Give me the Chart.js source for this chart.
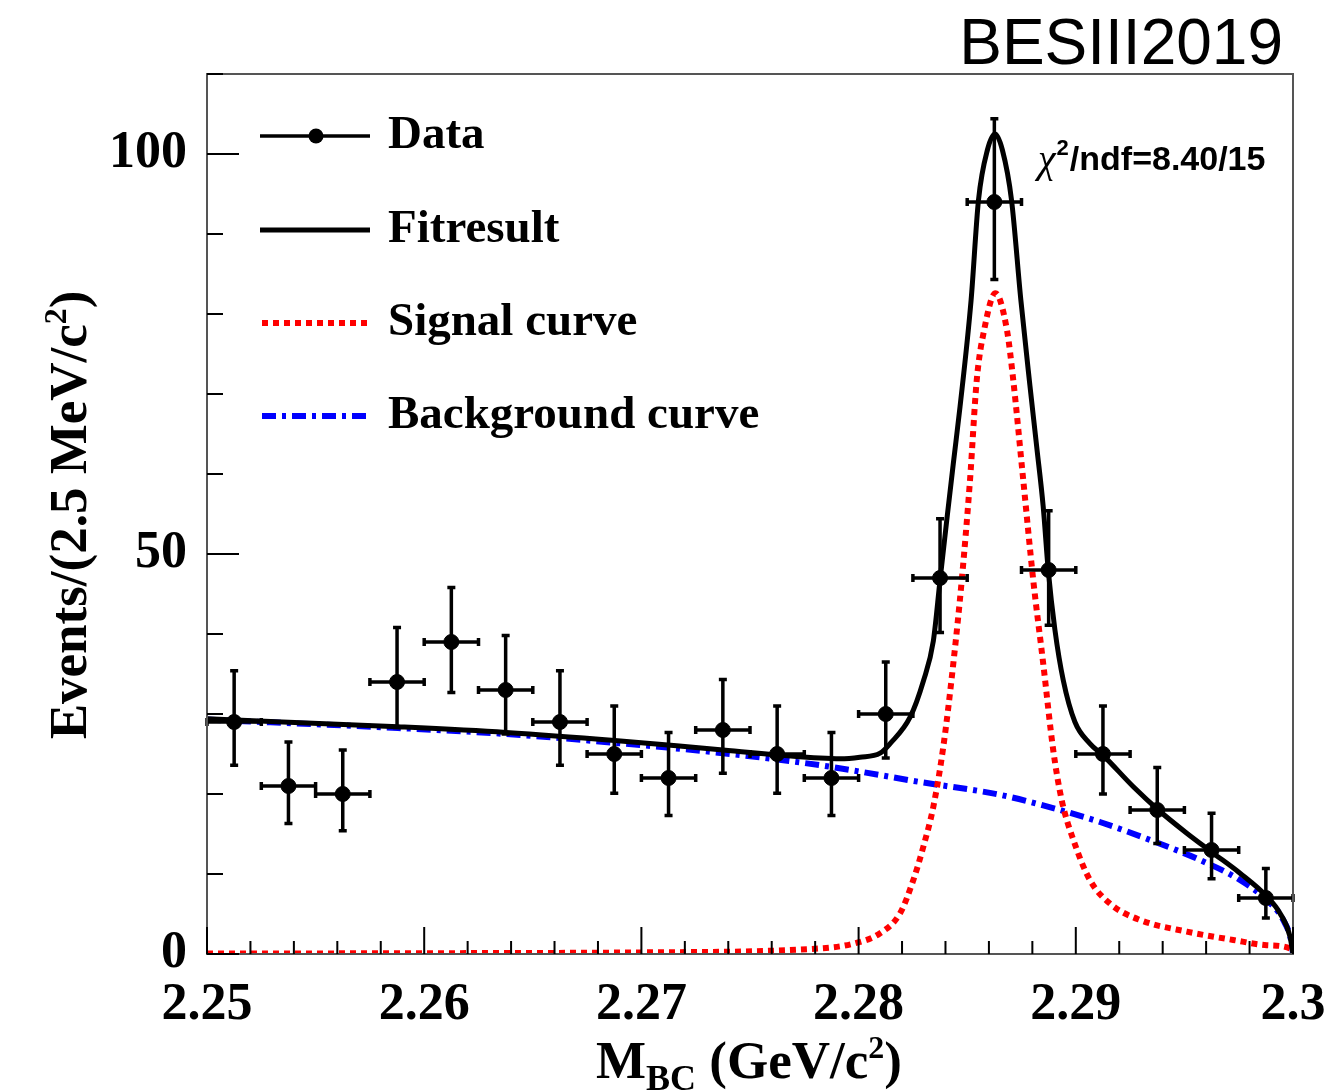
<!DOCTYPE html>
<html>
<head>
<meta charset="utf-8">
<script src="https://cdn.jsdelivr.net/npm/chart.js@4.4.1/dist/chart.umd.min.js"></script>
<style>
  html, body { margin: 0; padding: 0; background: #fff; }
</style>
</head>
<body>
<canvas id="grafica" width="1328" height="1092"></canvas>
<script>
// data histogram: bin centres (GeV/c^2), counts, Poisson errors
var binCentres = [2.25125, 2.25375, 2.25625, 2.25875, 2.26125, 2.26375, 2.26625, 2.26875, 2.27125, 2.27375,
                  2.27625, 2.27875, 2.28125, 2.28375, 2.28625, 2.28875, 2.29125, 2.29375, 2.29625, 2.29875];
var binHalfWidth = 0.00125;
var events  = [29, 21, 20, 34, 39, 33, 29, 25, 22, 28, 25, 22, 30, 47, 94, 48, 25, 18, 13, 7];
var errHigh = [6.4, 5.5, 5.5, 6.8, 6.8, 6.8, 6.4, 6.0, 5.7, 6.3, 6.0, 5.7, 6.5, 7.4, 10.4, 7.4, 6.0, 5.3, 4.6, 3.7];
var errLow  = [5.4, 4.7, 4.6, 5.7, 6.3, 5.5, 5.4, 4.9, 4.7, 5.4, 4.9, 4.7, 5.5, 6.8, 9.7, 6.9, 5.0, 4.2, 3.6, 2.5];

// fit result (black)
var fitX = [2.25, 2.25879, 2.26377, 2.26877, 2.27376, 2.27822, 2.27914, 2.28006, 2.28099, 2.28145, 2.28237,
            2.28298, 2.28344, 2.28375, 2.28406, 2.28436, 2.28467, 2.28518, 2.28552, 2.28593, 2.28628, 2.28662,
            2.28704, 2.28747, 2.28789, 2.2882, 2.2885, 2.28873, 2.28904, 2.28942, 2.28996, 2.29065, 2.29127,
            2.29265, 2.2938, 2.29511, 2.29633, 2.29756, 2.29879, 2.2994, 2.29986, 2.30];
var fitY = [29.4, 28.4, 27.7, 26.7, 25.5, 24.5, 24.4, 24.6, 25.1, 26.3, 29.6,
            34.1, 39.1, 46.75, 54.25, 61.3, 68.4, 81.75, 94.25, 100.5, 102.5, 100.5,
            94.25, 81.75, 71.0, 63.4, 55.9, 48, 40.5, 34.25, 29.0, 26.3, 24.8,
            20.9, 18, 15.1, 12.6, 10.1, 7.2, 5.1, 2.2, 0];

// signal curve (red dotted)
var sigX = [2.25, 2.26, 2.27, 2.27822, 2.27976, 2.28099, 2.28191, 2.28252, 2.28298, 2.28344, 2.2839,
            2.28436, 2.28475, 2.28513, 2.28544, 2.28578, 2.2863, 2.28683, 2.28712, 2.28758, 2.28804, 2.2885,
            2.28896, 2.28935, 2.28989, 2.29065, 2.29157, 2.29296, 2.29511, 2.29725, 2.29879, 2.29986, 2.30];
var sigY = [0.05, 0.1, 0.2, 0.7, 1.3, 2.6, 5.1, 9.25, 13.4, 18.4, 25.9,
            36.3, 46.75, 59.25, 71.75, 78, 82.6, 78, 71.75, 59.25, 46.75, 36.3,
            25.5, 19.25, 14.25, 9.25, 6.3, 4.25, 2.8, 1.75, 1.1, 0.7, 0];

// background curve (blue dash-dot)
var bkgX = [2.25, 2.25879, 2.26377, 2.26877, 2.27376, 2.27822, 2.28006, 2.28283, 2.28651, 2.28927, 2.29111,
            2.29342, 2.29572, 2.29756, 2.29879, 2.29955, 2.29994, 2.30];
var bkgY = [29.3, 28.25, 27.5, 26.4, 25.1, 23.6, 22.8, 21.5, 19.9, 18, 16.5,
            14.25, 11.75, 9.25, 6.75, 4.25, 1.3, 0];

// tick labels
var xTickValues = [2.25, 2.26, 2.27, 2.28, 2.29, 2.30];
var xTickLabels = ['2.25', '2.26', '2.27', '2.28', '2.29', '2.3'];
var yTickValues = [0, 50, 100];
var yTickLabels = ['0', '50', '100'];

function pares(xs, ys) {
  var out = [];
  for (var i = 0; i < xs.length; i++) out.push({ x: xs[i], y: ys[i] });
  return out;
}
function etiqueta(valores, textos, v) {
  for (var i = 0; i < valores.length; i++) {
    if (Math.abs(valores[i] - v) < 1e-6) return textos[i];
  }
  return null;
}

var serif = '"Liberation Serif", "DejaVu Serif", serif';
var sans = '"Liberation Sans", Arial, sans-serif';

// draws a row of text pieces (size, vertical offset) centred on x
function textoCompuesto(ctx, piezas, x, y) {
  var total = 0;
  piezas.forEach(function(p) { ctx.font = 'bold ' + p.size + 'px ' + serif; total += ctx.measureText(p.t).width; });
  var cx = x - total / 2;
  ctx.textAlign = 'left';
  piezas.forEach(function(p) {
    ctx.font = 'bold ' + p.size + 'px ' + serif;
    ctx.fillText(p.t, cx, y + p.dy);
    cx += ctx.measureText(p.t).width;
  });
}

// frame, inward ticks, error bars, legend and labels
var extras = {
  id: 'extras',
  afterDatasetsDraw: function(chart) {
    var ctx = chart.ctx, xs = chart.scales.x, ys = chart.scales.y, a = chart.chartArea;
    ctx.save();
    ctx.strokeStyle = '#000';
    ctx.lineWidth = 3.5;
    for (var i = 0; i < binCentres.length; i++) {
      var px = xs.getPixelForValue(binCentres[i]);
      var py = ys.getPixelForValue(events[i]);
      var xl = xs.getPixelForValue(binCentres[i] - binHalfWidth);
      var xr = Math.min(xs.getPixelForValue(binCentres[i] + binHalfWidth), a.right);
      var yt = ys.getPixelForValue(events[i] + errHigh[i]);
      var yb = ys.getPixelForValue(events[i] - errLow[i]);
      ctx.beginPath();
      ctx.moveTo(xl, py); ctx.lineTo(xr, py);
      ctx.moveTo(px, yt); ctx.lineTo(px, yb);
      ctx.moveTo(xl, py - 4); ctx.lineTo(xl, py + 4);
      ctx.moveTo(xr, py - 4); ctx.lineTo(xr, py + 4);
      ctx.moveTo(px - 4, yt); ctx.lineTo(px + 4, yt);
      ctx.moveTo(px - 4, yb); ctx.lineTo(px + 4, yb);
      ctx.stroke();
    }
    ctx.restore();
  },
  afterDraw: function(chart) {
    var ctx = chart.ctx, xs = chart.scales.x, ys = chart.scales.y, a = chart.chartArea;
    ctx.save();
    // frame
    ctx.strokeStyle = '#555';
    ctx.lineWidth = 2;
    ctx.strokeRect(a.left, a.top, a.right - a.left, a.bottom - a.top);
    // ticks
    ctx.strokeStyle = '#000';
    ctx.lineWidth = 2;
    ctx.beginPath();
    for (var k = 0; k <= 25; k++) {
      var xv = 2.25 + k * 0.002;
      var tx = xs.getPixelForValue(xv);
      var largo = (k % 5 === 0) ? 27 : 13;
      ctx.moveTo(tx, a.bottom); ctx.lineTo(tx, a.bottom - largo);
    }
    for (var j = 0; j <= 11; j++) {
      var ty = ys.getPixelForValue(j * 10);
      var largoY = (j % 5 === 0) ? 32 : 16;
      ctx.moveTo(a.left, ty); ctx.lineTo(a.left + largoY, ty);
    }
    ctx.stroke();

    // legend
    ctx.fillStyle = '#000';
    ctx.textBaseline = 'middle';
    ctx.lineCap = 'butt';
    ctx.strokeStyle = '#000';
    ctx.lineWidth = 3.5;
    ctx.beginPath(); ctx.moveTo(260, 136); ctx.lineTo(370, 136); ctx.stroke();
    ctx.beginPath(); ctx.arc(316, 136, 7.5, 0, 2 * Math.PI); ctx.fill();
    ctx.lineWidth = 5;
    ctx.beginPath(); ctx.moveTo(260, 230); ctx.lineTo(370, 230); ctx.stroke();
    ctx.lineWidth = 6;
    ctx.strokeStyle = '#ff0000';
    ctx.setLineDash([6, 5]);
    ctx.beginPath(); ctx.moveTo(262, 323); ctx.lineTo(370, 323); ctx.stroke();
    ctx.strokeStyle = '#0000ff';
    ctx.setLineDash([14, 6, 4, 6]);
    ctx.beginPath(); ctx.moveTo(262, 416); ctx.lineTo(370, 416); ctx.stroke();
    ctx.setLineDash([]);
    ctx.font = 'bold 47px ' + serif;
    ctx.textAlign = 'left';
    ctx.fillText('Data', 388, 136);
    ctx.fillText('Fitresult', 388, 230);
    ctx.fillText('Signal curve', 388, 323);
    ctx.fillText('Background curve', 388, 416);

    // chi2 / ndf
    ctx.textBaseline = 'alphabetic';
    ctx.font = 'italic 40px ' + serif;
    ctx.fillText('\u03c7', 1038, 172);
    var cx = 1038 + ctx.measureText('\u03c7').width;
    ctx.font = 'bold 22px ' + sans;
    ctx.fillText('2', cx + 1, 155);
    cx += ctx.measureText('2').width + 2;
    ctx.font = 'bold 34px ' + sans;
    ctx.fillText('/ndf=8.40/15', cx, 170);

    // title
    ctx.font = '64px ' + sans;
    ctx.textAlign = 'right';
    ctx.fillText('BESIII2019', 1283, 64);

    // x axis title
    textoCompuesto(ctx, [
      { t: 'M', size: 53, dy: 0 },
      { t: 'BC', size: 36, dy: 12 },
      { t: ' (GeV/c', size: 53, dy: 0 },
      { t: '2', size: 32, dy: -20 },
      { t: ')', size: 53, dy: 0 }
    ], 749, 1078);

    // y axis title
    ctx.translate(86, 515);
    ctx.rotate(-Math.PI / 2);
    textoCompuesto(ctx, [
      { t: 'Events/(2.5 MeV/c', size: 53, dy: 0 },
      { t: '2', size: 32, dy: -20 },
      { t: ')', size: 53, dy: 0 }
    ], 0, 0);
    ctx.restore();
  }
};

var ctx = document.getElementById('grafica').getContext('2d');
var grafica = new Chart(ctx, {
  type: 'scatter',
  data: {
    datasets: [
      {
        label: 'Data',
        data: pares(binCentres, events),
        backgroundColor: '#000',
        borderColor: '#000',
        pointRadius: 7.5,
        showLine: false
      },
      {
        label: 'Fitresult',
        data: pares(fitX, fitY),
        showLine: true,
        borderColor: '#000',
        borderWidth: 5,
        pointRadius: 0,
        cubicInterpolationMode: 'monotone'
      },
      {
        label: 'Signal curve',
        data: pares(sigX, sigY),
        showLine: true,
        borderColor: '#ff0000',
        borderWidth: 6,
        borderDash: [6, 5],
        pointRadius: 0,
        cubicInterpolationMode: 'monotone'
      },
      {
        label: 'Background curve',
        data: pares(bkgX, bkgY),
        showLine: true,
        borderColor: '#0000ff',
        borderWidth: 6,
        borderDash: [14, 6, 4, 6],
        pointRadius: 0,
        cubicInterpolationMode: 'monotone'
      }
    ]
  },
  options: {
    responsive: false,
    animation: false,
    layout: { padding: { left: 0, top: 74, right: 35, bottom: 0 } },
    plugins: { legend: { display: false }, tooltip: { enabled: false } },
    scales: {
      x: {
        type: 'linear',
        min: 2.25,
        max: 2.30,
        grid: { display: false, drawTicks: false },
        border: { display: false },
        ticks: {
          stepSize: 0.01,
          padding: 20,
          autoSkip: false,
          maxRotation: 0,
          color: '#000',
          font: { family: serif, size: 52, weight: 'bold' },
          callback: function(v) { return etiqueta(xTickValues, xTickLabels, v); }
        },
        afterFit: function(s) { s.height = 138; s.paddingLeft = 0; s.paddingRight = 0; }
      },
      y: {
        min: 0,
        max: 110,
        grid: { display: false, drawTicks: false },
        border: { display: false },
        ticks: {
          stepSize: 50,
          padding: 20,
          color: '#000',
          font: { family: serif, size: 52, weight: 'bold' },
          callback: function(v) { return etiqueta(yTickValues, yTickLabels, v); }
        },
        afterFit: function(s) { s.width = 207; s.paddingTop = 0; s.paddingBottom = 0; }
      }
    }
  },
  plugins: [extras]
});
</script>
</body>
</html>
